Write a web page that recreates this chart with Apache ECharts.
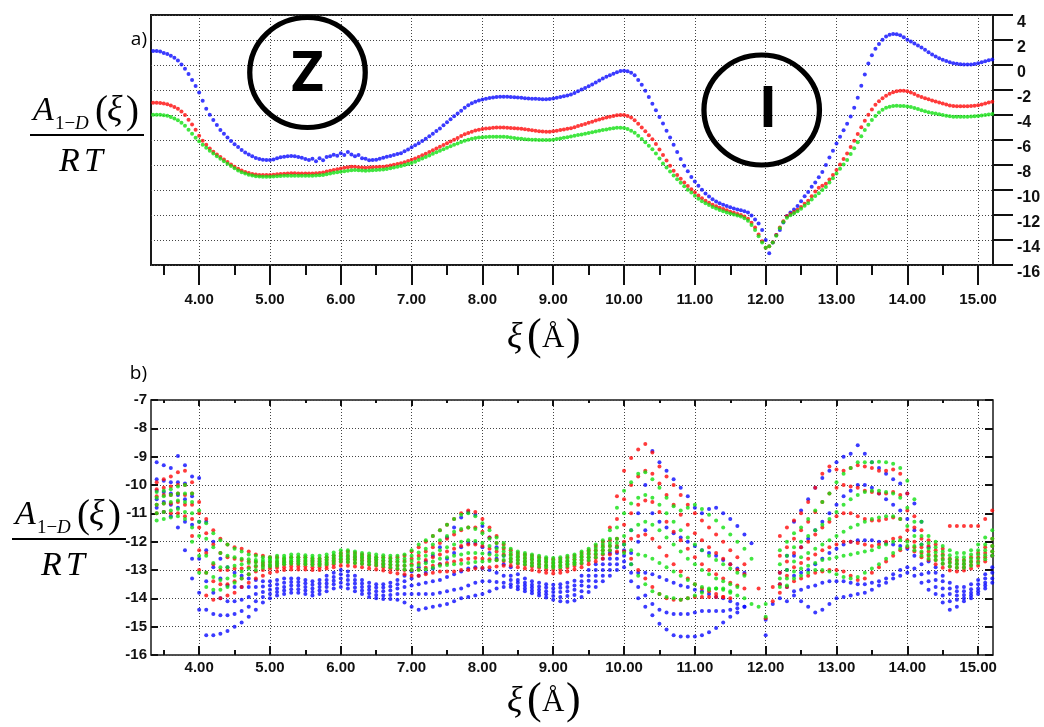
<!DOCTYPE html>
<html>
<head>
<meta charset="utf-8">
<script src="https://cdn.jsdelivr.net/npm/echarts@6/dist/echarts.min.js"></script>
<style>
html,body{margin:0;padding:0;background:#fff}
#chart{width:1044px;height:727px}
</style>
</head>
<body>
<div id="chart"></div>
<script>
// ---- sampling grid of panel a (xi in angstrom) ----
const XA = [
3.35,3.4,3.45,3.5,3.55,3.6,3.65,3.7,3.75,3.8,3.85,3.9,3.95,4,4.05,4.1,4.15,4.2,4.25,4.3,
4.35,4.4,4.45,4.5,4.55,4.6,4.65,4.7,4.75,4.8,4.85,4.9,4.95,5,5.05,5.1,5.15,5.2,5.25,5.3,
5.35,5.4,5.45,5.5,5.55,5.6,5.65,5.7,5.75,5.8,5.85,5.9,5.95,6,6.05,6.1,6.15,6.2,6.25,6.3,
6.35,6.4,6.45,6.5,6.55,6.6,6.65,6.7,6.75,6.8,6.85,6.9,6.95,7,7.05,7.1,7.15,7.2,7.25,7.3,
7.35,7.4,7.45,7.5,7.55,7.6,7.65,7.7,7.75,7.8,7.85,7.9,7.95,8,8.05,8.1,8.15,8.2,8.25,8.3,
8.35,8.4,8.45,8.5,8.55,8.6,8.65,8.7,8.75,8.8,8.85,8.9,8.95,9,9.05,9.1,9.15,9.2,9.25,9.3,
9.35,9.4,9.45,9.5,9.55,9.6,9.65,9.7,9.75,9.8,9.85,9.9,9.95,10,10.05,10.1,10.15,10.2,10.25,10.3,
10.35,10.4,10.45,10.5,10.55,10.6,10.65,10.7,10.75,10.8,10.85,10.9,10.95,11,11.05,11.1,11.15,11.2,11.25,11.3,
11.35,11.4,11.45,11.5,11.55,11.6,11.65,11.7,11.75,11.8,11.85,11.9,11.95,12,12.05,12.1,12.15,12.2,12.25,12.3,
12.35,12.4,12.45,12.5,12.55,12.6,12.65,12.7,12.75,12.8,12.85,12.9,12.95,13,13.05,13.1,13.15,13.2,13.25,13.3,
13.35,13.4,13.45,13.5,13.55,13.6,13.65,13.7,13.75,13.8,13.85,13.9,13.95,14,14.05,14.1,14.15,14.2,14.25,14.3,
14.35,14.4,14.45,14.5,14.55,14.6,14.65,14.7,14.75,14.8,14.85,14.9,14.95,15,15.05,15.1,15.15,15.2
];

// ---- panel a: A(xi)/RT for the three profiles ----
const BLUE_A = [
1.13,1.12,1.08,0.97,0.88,0.75,0.58,0.36,0.05,-0.3,-0.72,-1.2,-1.68,-2.2,-2.85,-3.5,-3.98,-4.4,-4.8,-5.2,
-5.5,-5.8,-6.08,-6.33,-6.56,-6.8,-7.0,-7.15,-7.3,-7.43,-7.52,-7.58,-7.6,-7.6,-7.55,-7.45,-7.38,-7.33,-7.3,-7.28,
-7.3,-7.35,-7.42,-7.52,-7.6,-7.5,-7.7,-7.45,-7.62,-7.35,-7.3,-7.18,-7.25,-7.05,-7.2,-6.95,-7.15,-7.3,-7.2,-7.45,
-7.5,-7.62,-7.6,-7.58,-7.5,-7.42,-7.33,-7.28,-7.2,-7.12,-7.05,-6.9,-6.75,-6.58,-6.42,-6.25,-6.07,-5.9,-5.7,-5.5,
-5.28,-5.07,-4.82,-4.58,-4.33,-4.1,-3.88,-3.65,-3.42,-3.22,-3.06,-2.93,-2.83,-2.76,-2.7,-2.64,-2.6,-2.56,-2.53,-2.53,
-2.54,-2.55,-2.57,-2.59,-2.62,-2.65,-2.67,-2.69,-2.7,-2.72,-2.73,-2.73,-2.72,-2.68,-2.62,-2.56,-2.5,-2.44,-2.36,-2.24,
-2.1,-1.96,-1.83,-1.7,-1.55,-1.4,-1.24,-1.07,-0.94,-0.82,-0.7,-0.58,-0.48,-0.45,-0.5,-0.62,-0.82,-1.2,-1.58,-2.05,
-2.55,-3.1,-3.62,-4.15,-4.67,-5.25,-5.8,-6.38,-6.95,-7.52,-8.05,-8.5,-8.95,-9.32,-9.65,-9.98,-10.28,-10.52,-10.74,-10.92,
-11.05,-11.17,-11.28,-11.38,-11.48,-11.55,-11.62,-11.7,-11.8,-12.03,-12.35,-12.67,-13.2,-14.0,-15.05,-14.2,-13.6,-13.2,-12.6,-12.08,
-11.8,-11.55,-11.28,-10.9,-10.5,-10.15,-9.73,-9.4,-8.98,-8.55,-8.0,-7.4,-6.85,-6.28,-5.73,-5.22,-4.7,-4.12,-3.42,-2.62,
-1.65,-0.75,0.12,0.78,1.3,1.68,2.02,2.28,2.42,2.48,2.46,2.38,2.22,2.03,1.88,1.72,1.56,1.4,1.22,1.03,
0.84,0.68,0.55,0.43,0.32,0.22,0.15,0.1,0.07,0.05,0.04,0.05,0.08,0.14,0.22,0.3,0.38,0.45
];
const RED_A = [
-3.01,-3.02,-3.04,-3.08,-3.14,-3.24,-3.36,-3.5,-3.72,-4.0,-4.38,-4.75,-5.17,-5.65,-6.05,-6.38,-6.68,-6.93,-7.15,-7.35,
-7.55,-7.75,-7.95,-8.13,-8.3,-8.43,-8.55,-8.64,-8.71,-8.76,-8.79,-8.8,-8.8,-8.8,-8.77,-8.74,-8.71,-8.69,-8.67,-8.66,
-8.66,-8.67,-8.68,-8.67,-8.67,-8.68,-8.66,-8.64,-8.6,-8.52,-8.45,-8.4,-8.33,-8.27,-8.22,-8.18,-8.14,-8.13,-8.17,-8.2,
-8.21,-8.2,-8.18,-8.16,-8.14,-8.13,-8.09,-8.03,-7.97,-7.92,-7.86,-7.78,-7.68,-7.58,-7.47,-7.35,-7.22,-7.09,-6.96,-6.82,
-6.68,-6.53,-6.39,-6.25,-6.11,-5.97,-5.83,-5.68,-5.54,-5.43,-5.33,-5.24,-5.17,-5.12,-5.08,-5.05,-5.02,-5.0,-4.99,-5.0,
-5.01,-5.03,-5.05,-5.07,-5.1,-5.14,-5.18,-5.22,-5.26,-5.29,-5.31,-5.33,-5.33,-5.3,-5.25,-5.2,-5.15,-5.1,-5.05,-4.97,
-4.88,-4.8,-4.71,-4.62,-4.53,-4.44,-4.36,-4.27,-4.2,-4.13,-4.07,-4.02,-4.0,-4.0,-4.07,-4.2,-4.42,-4.7,-5.0,-5.3,
-5.62,-5.94,-6.32,-6.75,-7.2,-7.63,-8.05,-8.45,-8.8,-9.1,-9.4,-9.68,-9.93,-10.18,-10.43,-10.65,-10.85,-11.02,-11.17,-11.3,
-11.42,-11.52,-11.62,-11.73,-11.82,-11.91,-12.0,-12.12,-12.3,-12.61,-13.0,-13.55,-14.1,-14.62,-14.5,-14.18,-13.6,-13.0,-12.5,-12.1,
-11.92,-11.75,-11.57,-11.35,-11.1,-10.85,-10.5,-10.12,-9.82,-9.65,-9.5,-9.15,-8.8,-8.4,-7.95,-7.52,-7.07,-6.55,-6.05,-5.52,
-4.98,-4.45,-3.98,-3.55,-3.18,-2.9,-2.66,-2.45,-2.3,-2.18,-2.1,-2.06,-2.05,-2.1,-2.2,-2.32,-2.45,-2.56,-2.65,-2.74,
-2.83,-2.92,-3.0,-3.08,-3.16,-3.23,-3.28,-3.3,-3.3,-3.3,-3.29,-3.28,-3.26,-3.22,-3.15,-3.07,-3.0,-2.93
];
const GREEN_A = [
-3.98,-3.97,-3.98,-4.01,-4.06,-4.15,-4.27,-4.42,-4.62,-4.86,-5.18,-5.5,-5.82,-6.1,-6.38,-6.62,-6.85,-7.07,-7.3,-7.5,
-7.7,-7.9,-8.08,-8.26,-8.43,-8.57,-8.68,-8.77,-8.84,-8.89,-8.92,-8.93,-8.93,-8.93,-8.91,-8.89,-8.87,-8.86,-8.85,-8.85,
-8.85,-8.86,-8.86,-8.85,-8.85,-8.85,-8.84,-8.82,-8.8,-8.74,-8.68,-8.62,-8.57,-8.53,-8.49,-8.45,-8.41,-8.4,-8.42,-8.44,
-8.45,-8.44,-8.42,-8.4,-8.37,-8.35,-8.31,-8.25,-8.19,-8.13,-8.07,-8.0,-7.92,-7.84,-7.73,-7.6,-7.47,-7.35,-7.23,-7.1,
-6.98,-6.85,-6.73,-6.61,-6.49,-6.38,-6.27,-6.16,-6.06,-5.98,-5.9,-5.84,-5.8,-5.78,-5.76,-5.74,-5.73,-5.73,-5.73,-5.74,
-5.76,-5.79,-5.83,-5.87,-5.9,-5.93,-5.95,-5.97,-5.98,-5.99,-6.0,-6.0,-6.0,-5.97,-5.92,-5.87,-5.82,-5.77,-5.72,-5.66,
-5.6,-5.55,-5.5,-5.44,-5.38,-5.32,-5.26,-5.2,-5.15,-5.1,-5.05,-5.02,-5.01,-5.03,-5.12,-5.25,-5.42,-5.65,-5.92,-6.18,
-6.45,-6.73,-7.08,-7.48,-7.87,-8.2,-8.52,-8.83,-9.13,-9.42,-9.7,-9.98,-10.2,-10.45,-10.7,-10.9,-11.06,-11.2,-11.35,-11.48,
-11.6,-11.7,-11.79,-11.87,-11.95,-12.03,-12.12,-12.25,-12.45,-12.8,-13.2,-13.7,-14.2,-14.62,-14.5,-14.2,-13.65,-13.05,-12.55,-12.22,
-12.02,-11.85,-11.7,-11.5,-11.25,-11.05,-10.75,-10.48,-10.25,-10.0,-9.75,-9.4,-9.05,-8.67,-8.3,-7.95,-7.6,-7.12,-6.65,-6.18,
-5.7,-5.2,-4.78,-4.4,-4.08,-3.8,-3.58,-3.42,-3.33,-3.28,-3.26,-3.27,-3.28,-3.31,-3.36,-3.43,-3.52,-3.62,-3.7,-3.77,
-3.83,-3.87,-3.93,-3.99,-4.05,-4.1,-4.13,-4.14,-4.14,-4.14,-4.13,-4.12,-4.1,-4.07,-4.03,-3.99,-3.95,-3.92
];

// ---- sampling grid of panel b ----
const XB = [
3.4,3.5,3.6,3.7,3.8,3.9,4,4.1,4.2,4.3,
4.4,4.5,4.6,4.7,4.8,4.9,5,5.1,5.2,5.3,
5.4,5.5,5.6,5.7,5.8,5.9,6,6.1,6.2,6.3,
6.4,6.5,6.6,6.7,6.8,6.9,7,7.1,7.2,7.3,
7.4,7.5,7.6,7.7,7.8,7.9,8,8.1,8.2,8.3,
8.4,8.5,8.6,8.7,8.8,8.9,9,9.1,9.2,9.3,
9.4,9.5,9.6,9.7,9.8,9.9,10,10.1,10.2,10.3,
10.4,10.5,10.6,10.7,10.8,10.9,11,11.1,11.2,11.3,
11.4,11.5,11.6,11.7,11.8,11.9,12,12.1,12.2,12.3,
12.4,12.5,12.6,12.7,12.8,12.9,13,13.1,13.2,13.3,
13.4,13.5,13.6,13.7,13.8,13.9,14,14.1,14.2,14.3,
14.4,14.5,14.6,14.7,14.8,14.9,15,15.1,15.2
];

// ---- panel b: families of profiles, five per colour (null = no point) ----
const RED_B1 = [
-9.9,-9.8,-9.7,-9.55,-9.5,-9.9,-10.6,-11.2,-11.6,-11.9,
-12.1,-12.2,-12.25,-12.35,-12.45,-12.5,-12.55,-12.55,-12.6,-12.55,
-12.55,-12.55,-12.6,-12.6,-12.55,-12.5,-12.4,-12.35,-12.4,-12.45,
-12.5,-12.55,-12.55,-12.58,-12.55,-12.5,-12.35,-12.2,-12.0,-11.8,
-11.6,-11.4,-11.2,-11.0,-10.9,-10.95,-11.2,-11.5,-11.8,-12.1,
-12.3,-12.4,-12.45,-12.5,-12.55,-12.6,-12.62,-12.6,-12.55,-12.5,
-12.4,-12.3,-12.15,-12.0,-11.5,-10.4,-9.5,-9.05,-8.75,-8.55,
-8.85,-9.35,-9.7,-10.0,-10.35,-10.7,-11.0,-11.25,-11.5,-11.75,
-12.0,-12.3,-12.55,-12.8,null,-13.65,-14.7,-14.1,-11.8,-11.5,
-11.25,-11.0,-10.6,-10.1,-9.6,-9.35,-9.45,-9.5,-9.4,-9.3,
-9.35,-9.4,-9.5,-9.5,-9.45,-9.6,-10.3,-11.1,-11.6,-11.95,
-12.1,-12.25,-11.45,-11.45,-11.45,-11.45,-11.45,-11.2,-10.9
];
const RED_B2 = [
-10.15,-10.1,-10.05,-10.0,-10.0,-10.3,-11.0,-11.7,-12.1,-12.4,
-12.55,-12.6,-12.65,-12.7,-12.72,-12.75,-12.72,-12.72,-12.7,-12.7,
-12.68,-12.68,-12.7,-12.7,-12.65,-12.6,-12.5,-12.5,-12.52,-12.56,
-12.6,-12.65,-12.68,-12.7,-12.7,-12.68,-12.6,-12.5,-12.35,-12.2,
-12.05,-11.9,-11.75,-11.6,-11.5,-11.5,-11.65,-11.85,-12.05,-12.25,
-12.45,-12.52,-12.58,-12.62,-12.68,-12.72,-12.75,-12.72,-12.68,-12.62,
-12.52,-12.42,-12.3,-12.15,-11.95,-11.2,-10.5,-10.0,-9.7,-9.5,
-9.6,-9.95,-10.35,-10.7,-11.05,-11.4,-11.7,-11.95,-12.2,-12.4,
-12.6,-12.8,-13.0,-13.15,null,null,null,null,-12.5,-12.2,
-11.9,-11.6,-11.3,-10.95,-10.6,-10.3,-10.1,-10.0,-10.05,-10.1,
-10.2,-10.25,-10.3,-10.3,-10.25,-10.35,-10.9,-11.5,-11.9,-12.15,
-12.3,-12.45,-12.6,-12.65,-12.65,-12.55,-12.4,-12.2,-11.9
];
const RED_B3 = [
-10.4,-10.35,-10.35,-10.3,-10.35,-10.7,-11.5,-12.4,-12.8,-13.0,
-13.0,-12.95,-12.95,-12.9,-12.88,-12.85,-12.85,-12.82,-12.8,-12.78,
-12.78,-12.78,-12.8,-12.8,-12.75,-12.7,-12.62,-12.6,-12.62,-12.66,
-12.7,-12.75,-12.8,-12.82,-12.85,-12.85,-12.8,-12.75,-12.65,-12.55,
-12.45,-12.35,-12.25,-12.15,-12.1,-12.1,-12.15,-12.25,-12.35,-12.45,
-12.6,-12.65,-12.7,-12.75,-12.8,-12.85,-12.88,-12.85,-12.8,-12.75,
-12.65,-12.55,-12.45,-12.3,-12.15,-11.9,-11.4,-11.0,-10.7,-10.55,
-10.6,-10.95,-11.3,-11.65,-11.95,-12.25,-12.55,-12.8,-13.0,-13.15,
-13.3,-13.45,-13.55,-13.65,null,null,null,-13.6,-13.1,-12.7,
-12.4,-12.2,-12.0,-11.75,-11.5,-11.3,-11.1,-11.0,-11.0,-11.1,
-11.2,-11.25,-11.25,-11.2,-11.15,-11.2,-11.6,-12.0,-12.2,-12.35,
-12.5,-12.6,-12.72,-12.78,-12.78,-12.7,-12.55,-12.4,-12.15
];
const RED_B4 = [
-10.7,-10.65,-10.65,-10.6,-10.7,-11.2,-12.3,-13.1,-13.4,-13.5,
-13.5,-13.4,-13.3,-13.15,-13.05,-13.0,-12.95,-12.92,-12.9,-12.88,
-12.88,-12.88,-12.9,-12.9,-12.85,-12.8,-12.72,-12.72,-12.75,-12.78,
-12.82,-12.85,-12.9,-12.95,-12.98,-13.0,-13.0,-12.98,-12.92,-12.85,
-12.8,-12.75,-12.7,-12.65,-12.6,-12.58,-12.6,-12.62,-12.65,-12.68,
-12.72,-12.78,-12.82,-12.88,-12.92,-12.98,-13.0,-12.98,-12.92,-12.86,
-12.78,-12.68,-12.58,-12.45,-12.3,-12.15,-12.0,-11.9,-11.8,-11.75,
-11.9,-12.2,-12.5,-12.8,-13.05,-13.3,-13.5,-13.65,-13.75,-13.85,
-13.95,-14.0,null,null,null,null,null,null,-13.5,-13.2,
-12.9,-12.75,-12.6,-12.45,-12.3,-12.2,-12.1,-12.0,-12.0,-12.05,
-12.1,-12.15,-12.1,-12.0,-11.9,-11.85,-11.95,-12.2,-12.4,-12.5,
-12.65,-12.78,-12.88,-12.92,-12.9,-12.82,-12.7,-12.55,-12.35
];
const RED_B5 = [
-11.0,-10.95,-11.0,-11.0,-11.1,-11.8,-13.0,-13.9,-14.05,-14.0,
-13.9,-13.8,-13.6,-13.45,-13.3,-13.2,-13.1,-13.05,-13.0,-12.98,
-12.98,-12.98,-13.0,-13.0,-12.95,-12.9,-12.85,-12.85,-12.88,-12.9,
-12.95,-12.98,-13.02,-13.08,-13.12,-13.15,-13.2,-13.2,-13.15,-13.1,
-13.05,-13.05,-13.05,-13.0,-13.0,-12.95,-12.92,-12.9,-12.88,-12.85,
-12.85,-12.9,-12.95,-13.0,-13.05,-13.1,-13.12,-13.1,-13.05,-12.98,
-12.9,-12.8,-12.7,-12.6,-12.45,-12.35,-12.35,-12.6,-13.0,-13.3,
-13.6,-13.85,-14.0,-14.05,-14.05,-14.0,-13.95,-13.95,-13.95,-13.95,
-13.95,null,null,null,null,null,null,null,-13.8,-13.6,
-13.4,-13.3,-13.2,-13.1,-13.05,-13.0,-13.0,-13.05,-13.2,-13.35,
-13.3,-13.1,-12.9,-12.7,-12.5,-12.3,-12.2,-12.35,-12.55,-12.65,
-12.8,-12.92,-13.02,-13.05,-13.02,-12.95,-12.85,-12.7,-12.5
];

const GREEN_B1 = [
-10.25,-10.2,-10.15,-10.05,-10.0,-10.3,-10.9,-11.35,-11.7,-11.95,
-12.1,-12.25,-12.35,-12.45,-12.5,-12.55,-12.55,-12.5,-12.5,-12.45,
-12.45,-12.48,-12.5,-12.5,-12.45,-12.38,-12.3,-12.3,-12.35,-12.4,
-12.42,-12.45,-12.48,-12.5,-12.5,-12.45,-12.3,-12.1,-11.95,-11.8,
-11.6,-11.4,-11.2,-11.05,-11.0,-11.1,-11.35,-11.6,-11.85,-12.05,
-12.25,-12.35,-12.4,-12.45,-12.5,-12.55,-12.58,-12.55,-12.5,-12.45,
-12.35,-12.25,-12.1,-11.95,-11.6,-10.8,-10.2,-9.9,-9.6,-9.55,
-9.8,-10.1,-10.45,-10.75,-10.9,-10.8,-10.7,-10.85,-11.05,-11.25,
-11.5,-11.75,-12.0,-12.25,-12.6,-14.3,-14.65,null,-12.3,-12.0,
-11.7,-11.5,-11.2,-10.9,-10.6,-10.3,-9.9,-9.6,-9.4,-9.2,
-9.2,-9.2,-9.18,-9.2,-9.25,-9.4,-9.85,-10.5,-11.3,-11.8,
-12.0,-12.15,-12.3,-12.4,-12.4,-12.3,-12.1,-11.85,-11.6
];
const GREEN_B2 = [
-10.45,-10.4,-10.35,-10.3,-10.3,-10.6,-11.3,-11.9,-12.2,-12.4,
-12.5,-12.55,-12.6,-12.62,-12.65,-12.65,-12.62,-12.6,-12.58,-12.55,
-12.55,-12.57,-12.58,-12.6,-12.55,-12.48,-12.42,-12.42,-12.45,-12.5,
-12.52,-12.55,-12.58,-12.6,-12.62,-12.6,-12.5,-12.38,-12.25,-12.1,
-11.95,-11.8,-11.65,-11.55,-11.5,-11.55,-11.7,-11.9,-12.05,-12.2,
-12.38,-12.45,-12.5,-12.55,-12.6,-12.64,-12.67,-12.65,-12.6,-12.55,
-12.45,-12.35,-12.22,-12.08,-11.9,-11.5,-11.0,-10.65,-10.45,-10.35,
-10.45,-10.7,-11.0,-11.3,-11.6,-11.85,-12.1,-12.3,-12.5,-12.65,
-12.8,-12.95,-13.1,-13.2,null,null,null,null,-12.8,-12.5,
-12.2,-12.0,-11.8,-11.6,-11.4,-11.2,-10.95,-10.7,-10.5,-10.35,
-10.25,-10.2,-10.2,-10.25,-10.3,-10.45,-10.8,-11.3,-11.8,-12.05,
-12.2,-12.35,-12.48,-12.55,-12.55,-12.45,-12.3,-12.1,-11.9
];
const GREEN_B3 = [
-10.7,-10.65,-10.6,-10.55,-10.6,-11.0,-11.8,-12.5,-12.75,-12.9,
-12.9,-12.85,-12.8,-12.75,-12.72,-12.72,-12.7,-12.68,-12.65,-12.63,
-12.62,-12.64,-12.66,-12.68,-12.63,-12.57,-12.52,-12.52,-12.55,-12.58,
-12.6,-12.62,-12.66,-12.7,-12.72,-12.72,-12.68,-12.6,-12.5,-12.42,
-12.3,-12.2,-12.1,-12.0,-11.95,-11.98,-12.05,-12.15,-12.25,-12.35,
-12.5,-12.55,-12.6,-12.64,-12.68,-12.72,-12.75,-12.73,-12.7,-12.65,
-12.55,-12.45,-12.33,-12.2,-12.05,-11.9,-11.8,-11.6,-11.4,-11.3,
-11.4,-11.6,-11.85,-12.1,-12.35,-12.6,-12.8,-13.0,-13.15,-13.3,
-13.4,-13.5,-13.6,null,null,null,-14.2,null,-13.3,-13.0,
-12.7,-12.55,-12.4,-12.25,-12.1,-11.95,-11.8,-11.65,-11.5,-11.4,
-11.3,-11.2,-11.15,-11.1,-11.1,-11.2,-11.45,-11.8,-12.1,-12.25,
-12.38,-12.5,-12.62,-12.68,-12.68,-12.6,-12.45,-12.3,-12.15
];
const GREEN_B4 = [
-11.0,-10.95,-10.9,-10.85,-10.95,-11.5,-12.5,-13.1,-13.25,-13.35,
-13.3,-13.2,-13.05,-12.95,-12.85,-12.82,-12.8,-12.76,-12.73,-12.7,
-12.7,-12.72,-12.74,-12.76,-12.72,-12.66,-12.6,-12.62,-12.65,-12.68,
-12.7,-12.72,-12.76,-12.8,-12.82,-12.85,-12.85,-12.82,-12.76,-12.7,
-12.6,-12.55,-12.5,-12.45,-12.4,-12.4,-12.42,-12.45,-12.48,-12.5,
-12.6,-12.65,-12.7,-12.74,-12.78,-12.82,-12.84,-12.82,-12.78,-12.73,
-12.65,-12.55,-12.43,-12.3,-12.15,-12.05,-12.1,-12.3,-12.45,-12.5,
-12.6,-12.75,-12.9,-13.05,-13.2,-13.35,-13.5,-13.6,-13.65,-13.65,
-13.7,-13.8,-13.9,-14.0,-14.2,null,null,null,-13.6,-13.3,
-13.05,-12.95,-12.85,-12.75,-12.65,-12.6,-12.55,-12.5,-12.45,-12.4,
-12.35,-12.3,-12.2,-12.1,-12.0,-11.95,-12.0,-12.15,-12.35,-12.45,
-12.52,-12.65,-12.75,-12.8,-12.8,-12.72,-12.6,-12.48,-12.35
];
const GREEN_B5 = [
-11.25,-11.2,-11.15,-11.1,-11.2,-12.0,-13.1,-13.6,-13.7,-13.7,
-13.6,-13.45,-13.3,-13.15,-13.0,-12.92,-12.88,-12.85,-12.8,-12.78,
-12.78,-12.8,-12.82,-12.84,-12.8,-12.75,-12.7,-12.72,-12.75,-12.78,
-12.8,-12.82,-12.86,-12.9,-12.95,-12.98,-13.0,-13.0,-12.97,-12.92,
-12.85,-12.82,-12.8,-12.78,-12.75,-12.72,-12.7,-12.68,-12.66,-12.65,
-12.7,-12.75,-12.8,-12.84,-12.88,-12.9,-12.92,-12.9,-12.86,-12.8,
-12.75,-12.65,-12.55,-12.42,-12.3,-12.2,-12.4,-12.8,-13.2,-13.5,
-13.75,-13.85,-13.95,-14.0,-14.05,-14.0,-13.9,-13.8,-13.7,-13.65,
-13.65,-13.75,null,null,null,null,null,null,null,-13.55,
-13.3,-13.2,-13.1,-13.0,-13.0,-13.05,-13.15,-13.25,-13.3,-13.25,
-13.1,-12.95,-12.8,-12.6,-12.4,-12.25,-12.15,-12.3,-12.5,-12.6,
-12.65,-12.78,-12.88,-12.92,-12.92,-12.85,-12.75,-12.62,-12.5
];

const BLUE_B1 = [
-9.2,-9.3,-9.4,-8.98,-9.3,-9.7,-9.75,-11.3,-12.0,-12.6,
-12.9,-13.1,-13.2,-13.3,-13.35,-13.4,-13.4,-13.35,-13.3,-13.3,
-13.3,-13.35,-13.4,-13.35,-13.2,-13.1,-13.0,-13.05,-13.2,-13.35,
-13.45,-13.5,-13.5,-13.45,-13.35,-13.2,-13.05,-12.9,-12.7,-12.5,
-12.2,-11.85,-11.5,-11.15,-10.95,-11.05,-11.45,-11.85,-12.2,-12.5,
-12.9,-13.15,-13.3,-13.4,-13.45,-13.5,-13.52,-13.5,-13.45,-13.38,
-13.2,-13.0,-12.8,-12.6,-12.4,-12.2,-12.1,-11.6,-11.0,-10.0,
-8.8,-9.2,-9.5,-9.8,-10.1,-10.4,-10.8,-11.0,-10.85,-10.8,
-11.0,-11.2,-11.45,-11.75,-12.06,null,-15.3,-14.2,-13.1,-12.5,
-11.3,-10.9,-10.5,-10.1,-9.75,-9.5,-9.2,-9.0,-8.9,-8.6,
-8.9,-9.2,-9.4,-9.6,-9.8,-9.95,-10.3,-10.65,-11.3,-12.2,
-12.9,-13.2,-13.45,-13.6,-13.6,-13.5,-13.35,-13.15,-12.5
];
const BLUE_B2 = [
-9.8,-9.85,-9.9,-9.9,-9.95,-10.4,-11.3,-12.3,-12.9,-13.3,
-13.55,-13.6,-13.6,-13.6,-13.6,-13.58,-13.55,-13.5,-13.45,-13.42,
-13.42,-13.47,-13.52,-13.48,-13.35,-13.25,-13.15,-13.2,-13.35,-13.48,
-13.58,-13.62,-13.62,-13.58,-13.5,-13.4,-13.3,-13.2,-13.1,-12.95,
-12.8,-12.6,-12.4,-12.2,-12.05,-12.05,-12.2,-12.4,-12.6,-12.8,
-13.2,-13.35,-13.45,-13.52,-13.58,-13.62,-13.65,-13.63,-13.6,-13.55,
-13.4,-13.2,-13.0,-12.8,-12.6,-12.4,-12.3,-12.4,-12.0,-11.6,
-11.0,-11.3,-11.5,-11.7,-11.85,-12.0,-12.15,-12.3,-12.4,-12.5,
-12.65,-12.8,-12.95,-13.1,null,null,-14.76,null,-13.5,-13.0,
-12.5,-12.2,-11.9,-11.6,-11.3,-11.0,-10.7,-10.4,-10.2,-10.0,
-10.0,-10.1,-10.3,-10.5,-10.7,-10.9,-11.2,-11.6,-12.1,-12.7,
-13.1,-13.4,-13.65,-13.75,-13.75,-13.68,-13.5,-13.3,-12.9
];
const BLUE_B3 = [
-10.2,-10.25,-10.3,-10.35,-10.5,-11.4,-12.6,-13.4,-13.8,-14.0,
-14.1,-14.1,-14.05,-13.95,-13.85,-13.78,-13.7,-13.65,-13.6,-13.55,
-13.55,-13.6,-13.65,-13.6,-13.48,-13.38,-13.3,-13.35,-13.48,-13.6,
-13.7,-13.75,-13.75,-13.72,-13.65,-13.6,-13.55,-13.5,-13.45,-13.4,
-13.35,-13.25,-13.15,-13.05,-12.95,-12.9,-12.95,-13.0,-13.1,-13.2,
-13.35,-13.45,-13.55,-13.62,-13.7,-13.75,-13.78,-13.78,-13.75,-13.7,
-13.55,-13.38,-13.2,-13.0,-12.8,-12.6,-12.5,-12.8,-13.1,-13.1,
-13.15,-13.25,-13.35,-13.45,-13.55,-13.6,-13.7,-13.75,-13.85,-13.95,
-14.0,-14.1,-14.2,-14.3,null,null,null,null,-14.0,-13.6,
-13.2,-13.1,-13.0,-12.8,-12.6,-12.4,-12.25,-12.1,-12.0,-11.95,
-11.95,-11.95,-12.0,-12.05,-12.1,-12.15,-12.25,-12.5,-12.8,-13.1,
-13.35,-13.65,-13.85,-13.9,-13.88,-13.8,-13.65,-13.45,-13.1
];
const BLUE_B4 = [
-10.5,-10.6,-10.7,-10.8,-11.3,-12.6,-13.8,-14.4,-14.55,-14.6,
-14.6,-14.55,-14.45,-14.3,-14.1,-13.95,-13.85,-13.78,-13.72,-13.68,
-13.68,-13.72,-13.78,-13.72,-13.6,-13.5,-13.45,-13.5,-13.62,-13.72,
-13.82,-13.88,-13.9,-13.88,-13.85,-13.85,-13.85,-13.85,-13.85,-13.85,
-13.8,-13.75,-13.7,-13.65,-13.55,-13.45,-13.4,-13.4,-13.42,-13.45,
-13.5,-13.58,-13.65,-13.72,-13.8,-13.86,-13.92,-13.95,-13.92,-13.88,
-13.75,-13.58,-13.4,-13.2,-13.0,-12.8,-12.7,-13.1,-13.6,-13.9,
-14.2,-14.4,-14.5,-14.55,-14.55,-14.55,-14.5,-14.45,-14.45,-14.45,
-14.45,-14.4,-14.35,null,null,null,null,null,null,-14.1,
-13.75,-13.7,-13.6,-13.55,-13.45,-13.4,-13.4,-13.4,-13.45,-13.5,
-13.5,-13.45,-13.4,-13.3,-13.15,-13.0,-12.9,-12.95,-13.15,-13.4,
-13.6,-13.9,-14.1,-14.05,-14.0,-13.9,-13.75,-13.55,-13.3
];
const BLUE_B5 = [
-10.8,-10.95,-11.1,-11.5,-12.3,-13.3,-14.4,-15.3,-15.3,-15.25,
-15.15,-15.0,-14.85,-14.65,-14.4,-14.15,-14.0,-13.9,-13.85,-13.8,
-13.8,-13.85,-13.9,-13.85,-13.75,-13.65,-13.6,-13.65,-13.75,-13.85,
-13.95,-14.0,-14.02,-14.02,-14.05,-14.15,-14.3,-14.4,-14.35,-14.3,
-14.25,-14.2,-14.1,-14.0,-13.95,-13.9,-13.85,-13.75,-13.65,-13.6,
-13.6,-13.68,-13.75,-13.82,-13.9,-13.97,-14.05,-14.1,-14.12,-14.08,
-13.95,-13.78,-13.6,-13.4,-13.2,-13.0,-12.9,-13.4,-14.0,-14.3,
-14.6,-14.9,-15.1,-15.3,-15.35,-15.35,-15.35,-15.3,-15.2,-15.05,
-14.85,-14.65,-14.5,-14.3,null,null,null,null,null,null,
-13.9,-14.1,-14.3,-14.5,-14.4,-14.2,-14.0,-13.95,-13.9,-13.85,
-13.8,-13.7,-13.55,-13.45,-13.3,-13.2,-13.1,-13.2,-13.45,-13.7,
-13.85,-14.15,-14.4,-14.3,-14.1,-14.0,-13.85,-13.65,-13.45
];

// ---- axis ticks ----
const X_MAJOR = [4,5,6,7,8,9,10,11,12,13,14,15];
const X_MINOR = [3.5,4.5,5.5,6.5,7.5,8.5,9.5,10.5,11.5,12.5,13.5,14.5];

const COL_BLUE = '#0a0aff', COL_RED = '#ff0a0a', COL_GREEN = '#12e012';
const SANS = '"Liberation Sans", Arial, sans-serif';
const SERIF = '"Liberation Serif", "DejaVu Serif", serif';

function pairs(xs, ys) {
  const out = [];
  for (let i = 0; i < xs.length; i++) if (ys[i] !== null) out.push([xs[i], ys[i]]);
  return out;
}
function family(xs, list) {
  let out = [];
  list.forEach(ys => { out = out.concat(pairs(xs, ys)); });
  return out;
}

const dotted = { color: '#444', width: 1, type: [1, 2] };
const tickStyle = { color: '#111', width: 2 };
const lbl = { fontFamily: SANS, fontWeight: 'bold', fontSize: 15, color: '#111' };

const X_MIN = 3.32, X_MAX = 15.21;
function xAxis(grid, pos, opts) {
  return Object.assign({
    gridIndex: grid, type: 'value', min: X_MIN, max: X_MAX, position: pos,
    axisLine: { show: false, onZero: false },
    axisLabel: { show: false },
    splitLine: { show: false }
  }, opts);
}

const chart = echarts.init(document.getElementById('chart'), null, { renderer: 'canvas' });

const option = {
  animation: false,
  backgroundColor: '#fff',
  grid: [
    { left: 151, top: 15, width: 842, height: 250, show: true, borderColor: '#1a1a1a', borderWidth: 2, backgroundColor: 'transparent' },
    { left: 151, top: 400, width: 842, height: 255, show: true, borderColor: '#1a1a1a', borderWidth: 1.5, backgroundColor: 'transparent' }
  ],
  xAxis: [
    xAxis(0, 'bottom', {
      axisTick: { show: true, inside: false, length: 20, customValues: X_MAJOR, lineStyle: tickStyle },
      axisLabel: Object.assign({ show: true, customValues: X_MAJOR, margin: 27, formatter: v => v.toFixed(2) }, lbl),
      splitLine: { show: true, lineStyle: dotted }
    }),
    xAxis(0, 'bottom', {
      axisTick: { show: true, inside: false, length: 10, customValues: X_MINOR, lineStyle: tickStyle }
    }),
    xAxis(1, 'bottom', {
      axisTick: { show: true, inside: true, length: 9, customValues: X_MAJOR, lineStyle: tickStyle },
      axisLabel: Object.assign({ show: true, customValues: X_MAJOR, margin: 5, formatter: v => v.toFixed(2) }, lbl),
      splitLine: { show: true, lineStyle: dotted }
    }),
    xAxis(1, 'bottom', {
      axisTick: { show: true, inside: true, length: 5, customValues: X_MINOR, lineStyle: tickStyle }
    }),
    xAxis(1, 'top', {
      axisTick: { show: true, inside: true, length: 6, customValues: X_MAJOR, lineStyle: tickStyle }
    }),
    xAxis(1, 'top', {
      axisTick: { show: true, inside: true, length: 3, customValues: X_MINOR, lineStyle: tickStyle }
    })
  ],
  yAxis: [
    {
      gridIndex: 0, type: 'value', min: -16, max: 4, interval: 2, position: 'right',
      axisLine: { show: false, onZero: false },
      axisTick: { show: true, inside: false, length: 20, lineStyle: tickStyle },
      axisLabel: Object.assign({ margin: 24, verticalAlign: 'top' }, lbl, { fontSize: 16 }),
      splitLine: { show: true, lineStyle: dotted }
    },
    {
      gridIndex: 1, type: 'value', min: -16, max: -7, interval: 1, position: 'left',
      axisLine: { show: false, onZero: false },
      axisTick: { show: true, inside: true, length: 7, lineStyle: tickStyle },
      axisLabel: Object.assign({ margin: 4 }, lbl),
      splitLine: { show: true, lineStyle: dotted }
    },
    {
      gridIndex: 1, type: 'value', min: -16, max: -7, interval: 1, position: 'right',
      axisLine: { show: false, onZero: false },
      axisTick: { show: true, inside: true, length: 8, lineStyle: tickStyle },
      axisLabel: { show: false },
      splitLine: { show: false }
    }
  ],
  series: [
    { name: 'a-blue', type: 'scatter', xAxisIndex: 0, yAxisIndex: 0, symbol: 'circle', symbolSize: 4, itemStyle: { color: COL_BLUE }, data: pairs(XA, BLUE_A) },
    { name: 'a-red', type: 'scatter', xAxisIndex: 0, yAxisIndex: 0, symbol: 'circle', symbolSize: 4, itemStyle: { color: COL_RED }, data: pairs(XA, RED_A) },
    { name: 'a-green', type: 'scatter', xAxisIndex: 0, yAxisIndex: 0, symbol: 'circle', symbolSize: 4, itemStyle: { color: COL_GREEN }, data: pairs(XA, GREEN_A) },
    { name: 'b-blue', type: 'scatter', xAxisIndex: 2, yAxisIndex: 1, symbol: 'circle', symbolSize: 4, itemStyle: { color: COL_BLUE },
      data: family(XB, [BLUE_B1, BLUE_B2, BLUE_B3, BLUE_B4, BLUE_B5]) },
    { name: 'b-red', type: 'scatter', xAxisIndex: 2, yAxisIndex: 1, symbol: 'circle', symbolSize: 4, itemStyle: { color: COL_RED },
      data: family(XB, [RED_B1, RED_B2, RED_B3, RED_B4, RED_B5]) },
    { name: 'b-green', type: 'scatter', xAxisIndex: 2, yAxisIndex: 1, symbol: 'circle', symbolSize: 4, itemStyle: { color: COL_GREEN },
      data: family(XB, [GREEN_B1, GREEN_B2, GREEN_B3, GREEN_B4, GREEN_B5]) }
  ],
  graphic: { elements: [] }
};

// ---- annotations: panel tags, region circles, axis titles ----
function txt(x, y, text, font, align, extra) {
  return Object.assign({
    type: 'text', z: 100,
    style: { x: x, y: y, text: text, font: font, fill: '#000', align: align || 'left', verticalAlign: 'middle',
             textAlign: align || 'left', textVerticalAlign: 'middle' }
  }, extra || {});
}
function fraction(ox, oy) {
  // ox, oy: left end / height of the fraction bar
  return [
    txt(ox + 3, oy - 24, 'A', 'italic 34px ' + SERIF),
    txt(ox + 25, oy - 11, '1\u2212', '19px ' + SERIF),
    txt(ox + 45, oy - 11, 'D', 'italic 19px ' + SERIF),
    txt(ox + 65, oy - 22, '(', '39px ' + SERIF),
    txt(ox + 77, oy - 24, '\u03BE', 'italic 36px ' + SERIF),
    txt(ox + 96, oy - 22, ')', '39px ' + SERIF),
    { type: 'line', z: 100, shape: { x1: ox, y1: oy, x2: ox + 114, y2: oy }, style: { stroke: '#000', lineWidth: 2 } },
    txt(ox + 29, oy + 27, 'R', 'italic 34px ' + SERIF),
    txt(ox + 54, oy + 27, 'T', 'italic 34px ' + SERIF)
  ];
}
function xiTitle(cx, cy) {
  return [
    txt(cx - 33, cy, '\u03BE', 'italic 36px ' + SERIF),
    txt(cx - 13, cy - 1, '(', '44px ' + SERIF),
    txt(cx + 2, cy + 1, '\u00C5', '31px ' + SERIF),
    txt(cx + 26, cy - 1, ')', '44px ' + SERIF)
  ];
}
const G = option.graphic.elements;
G.push(txt(147, 40, 'a)', '19px "Open Sans", ' + SANS, 'right'));
G.push(txt(147, 374, 'b)', '19px "Open Sans", ' + SANS, 'right'));
G.push({ type: 'circle', z: 100, x: 307.5, y: 72.5, scaleX: 1.05, shape: { cx: 0, cy: 0, r: 55 }, style: { fill: 'none', stroke: '#000', lineWidth: 5 } });
G.push(txt(307.5, 75, 'Z', 'bold 56px "Open Sans", ' + SANS, 'center'));
G.push({ type: 'circle', z: 100, x: 761.7, y: 110, scaleX: 1.05, shape: { cx: 0, cy: 0, r: 55 }, style: { fill: 'none', stroke: '#000', lineWidth: 5 } });
G.push(txt(768, 111, 'I', 'bold 57px "Open Sans", ' + SANS, 'center'));
fraction(30, 135).forEach(e => G.push(e));
fraction(12, 539).forEach(e => G.push(e));
xiTitle(540, 338).forEach(e => G.push(e));
xiTitle(540, 702).forEach(e => G.push(e));

chart.setOption(option);
</script>
</body>
</html>
